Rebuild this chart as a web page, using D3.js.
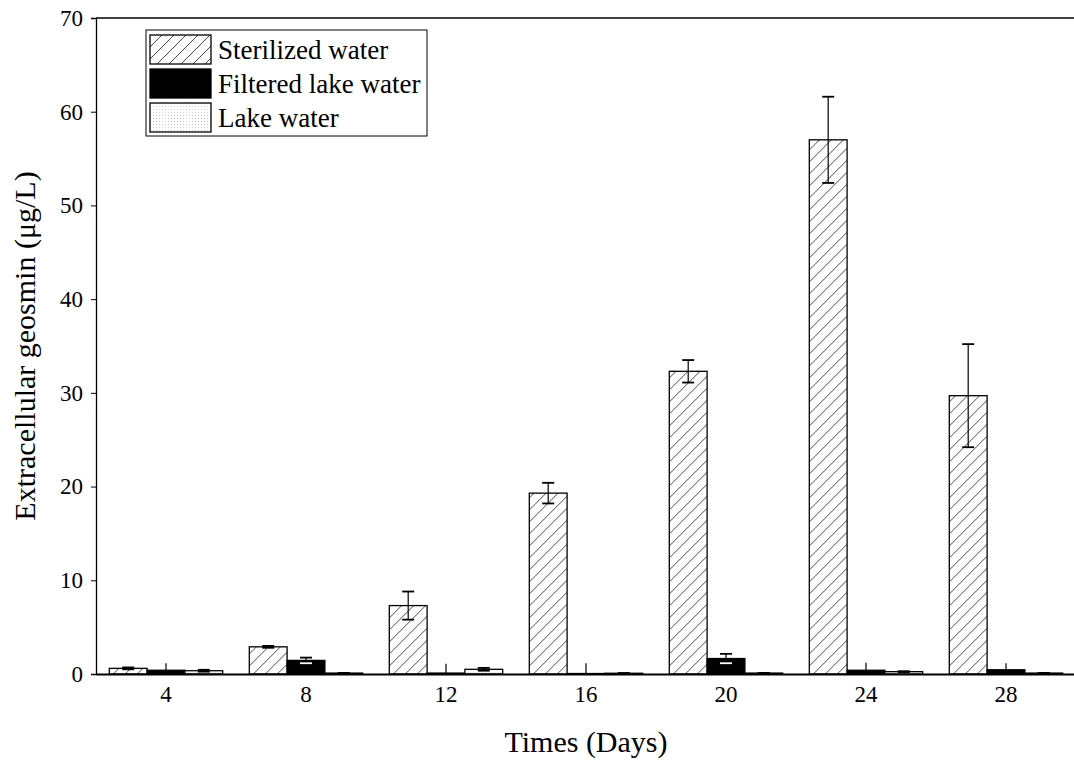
<!DOCTYPE html>
<html>
<head>
<meta charset="utf-8">
<script src="https://cdn.jsdelivr.net/npm/d3@7"></script>
<style>
  body { margin: 0; background: #fff; }
  svg { display: block; font-family: "Liberation Serif", "Times New Roman", serif; }
</style>
</head>
<body>
<svg></svg>
<script>
const [svgWidth, svgHeight] = [1074, 764];
const margin = { top: 18, right: -2, bottom: 90, left: 96 };

const days = [4, 8, 12, 16, 20, 24, 28];
const seriesNames = ['Sterilized water', 'Filtered lake water', 'Lake water'];
const sterilized = [0.6, 2.9, 7.3, 19.3, 32.3, 57.0, 29.7];
const sterilizedErr = [0.1, 0.1, 1.5, 1.1, 1.2, 4.6, 5.5];
const filtered = [0.4, 1.45, 0.1, 0.05, 1.65, 0.4, 0.45];
const filteredErr = [0.75, 0.3, 1.0, 1.1, 0.5, 0.8, 0.7];
const lake = [0.35, 0.1, 0.5, 0.08, 0.1, 0.25, 0.1];
const lakeErr = [0.1, 0.02, 0.15, 0.02, 0.02, 0.05, 0.02];
const yTicks = [0, 10, 20, 30, 40, 50, 60, 70];

const svg = d3.select('svg')
  .attr('width', svgWidth)
  .attr('height', svgHeight);

const defs = svg.append('defs');
const hatch = defs.append('pattern')
  .attr('id', 'hatch')
  .attr('patternUnits', 'userSpaceOnUse')
  .attr('width', 12)
  .attr('height', 12);
hatch.append('rect').attr('width', 12).attr('height', 12).attr('fill', '#fff');
hatch.append('path')
  .attr('d', 'M-3,15 L15,-3 M-9,9 L9,-9 M3,21 L21,3')
  .attr('stroke', '#333')
  .attr('stroke-width', 0.9);
const dots = defs.append('pattern')
  .attr('id', 'dots')
  .attr('patternUnits', 'userSpaceOnUse')
  .attr('width', 3)
  .attr('height', 3);
dots.append('rect').attr('width', 3).attr('height', 3).attr('fill', '#fff');
dots.append('rect').attr('width', 1).attr('height', 1).attr('fill', '#ccc');

const fills = ['url(#hatch)', '#000', 'url(#dots)'];

const plotW = svgWidth - margin.left - margin.right;
const plotH = svgHeight - margin.top - margin.bottom;
const plot = svg.append('g')
  .attr('transform', `translate(${margin.left}, ${margin.top})`);

const x0 = d3.scaleBand()
  .domain(days)
  .range([0, plotW])
  .paddingInner(0.19)
  .paddingOuter(0.095);
const x1 = d3.scaleBand()
  .domain(seriesNames)
  .range([0, x0.bandwidth()]);
const y = d3.scaleLinear()
  .domain([0, 70])
  .range([plotH, 0]);

const data = days.map((d, i) => ({
  day: d,
  values: [
    { name: seriesNames[0], v: sterilized[i], e: sterilizedErr[i], k: 0 },
    { name: seriesNames[1], v: filtered[i], e: filteredErr[i], k: 1 },
    { name: seriesNames[2], v: lake[i], e: lakeErr[i], k: 2 }
  ]
}));

const groups = plot.selectAll('g.grp')
  .data(data)
  .enter()
  .append('g')
  .attr('class', 'grp')
  .attr('transform', d => `translate(${x0(d.day)}, 0)`);

groups.selectAll('rect')
  .data(d => d.values)
  .enter()
  .append('rect')
  .attr('x', d => x1(d.name))
  .attr('y', d => y(d.v))
  .attr('width', x1.bandwidth())
  .attr('height', d => y(0) - y(d.v))
  .attr('fill', d => fills[d.k])
  .attr('stroke', '#000')
  .attr('stroke-width', 1.3);

// error bars (no caps where the bar is smaller than its error)
const capW = 12;
const err = groups.selectAll('g.err')
  .data(d => d.values)
  .enter()
  .append('g')
  .attr('class', 'err')
  .attr('transform', d => `translate(${x1(d.name) + x1.bandwidth() / 2}, 0)`);
err.append('line')
  .attr('y1', d => y(d.v + d.e))
  .attr('y2', d => y(Math.max(0, d.v - d.e)))
  .attr('stroke', '#000')
  .attr('stroke-width', 1.2);
err.append('line')
  .attr('x1', -capW / 2)
  .attr('x2', capW / 2)
  .attr('y1', d => y(d.v + d.e))
  .attr('y2', d => y(d.v + d.e))
  .attr('stroke', '#000')
  .attr('stroke-width', 1.8)
  .attr('opacity', d => d.v - d.e > 0 ? 1 : 0);
err.append('line')
  .attr('x1', -capW / 2)
  .attr('x2', capW / 2)
  .attr('y1', d => y(Math.max(0, d.v - d.e)))
  .attr('y2', d => y(Math.max(0, d.v - d.e)))
  .attr('stroke', d => d.k === 1 ? '#fff' : '#000')
  .attr('stroke-width', 1.8)
  .attr('opacity', d => d.v - d.e > 0 ? 1 : 0);

// axes
const yAxis = d3.axisLeft(y)
  .tickValues(yTicks)
  .tickSize(5)
  .tickPadding(8);
const yG = plot.append('g').call(yAxis);
yG.select('.domain').attr('stroke', '#000').attr('stroke-width', 1.3);
yG.selectAll('text')
  .attr('font-size', 23)
  .attr('font-family', '"Liberation Serif", serif')
  .attr('fill', '#000');

const xAxis = d3.axisBottom(x0)
  .tickSize(0)
  .tickPadding(12);
const xG = plot.append('g')
  .attr('transform', `translate(0, ${plotH})`)
  .call(xAxis);
xG.select('.domain').attr('stroke', '#000').attr('stroke-width', 1.8);
xG.selectAll('text')
  .attr('font-size', 23)
  .attr('font-family', '"Liberation Serif", serif')
  .attr('fill', '#000');

// top frame line
plot.append('line')
  .attr('x1', 0)
  .attr('x2', plotW)
  .attr('y1', 0)
  .attr('y2', 0)
  .attr('stroke', '#000')
  .attr('stroke-width', 1.3);

// titles
svg.append('text')
  .attr('x', margin.left + 490)
  .attr('y', 752)
  .attr('text-anchor', 'middle')
  .attr('font-size', 30)
  .text('Times (Days)');
svg.append('text')
  .attr('transform', `translate(35, ${margin.top + plotH / 2}) rotate(-90)`)
  .attr('text-anchor', 'middle')
  .attr('font-size', 30)
  .text('Extracellular geosmin (μg/L)');

// legend
const legend = svg.append('g')
  .attr('transform', 'translate(146, 30)');
legend.append('rect')
  .attr('width', 281)
  .attr('height', 106)
  .attr('fill', '#fff')
  .attr('stroke', '#000')
  .attr('stroke-width', 1);
const li = legend.selectAll('g.item')
  .data(seriesNames)
  .enter()
  .append('g')
  .attr('class', 'item')
  .attr('transform', (d, i) => `translate(4, ${5 + i * 34})`);
li.append('rect')
  .attr('width', 61)
  .attr('height', 29)
  .attr('fill', (d, i) => fills[i])
  .attr('stroke', '#000')
  .attr('stroke-width', 1.3);
li.append('text')
  .attr('x', 68)
  .attr('y', 24)
  .attr('font-size', 27)
  .text(d => d);
</script>
</body>
</html>
